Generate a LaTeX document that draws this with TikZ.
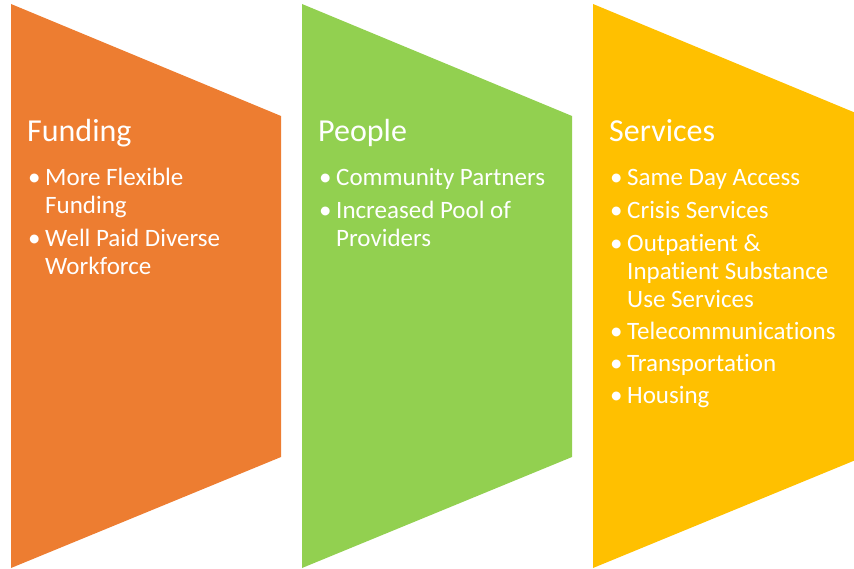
\documentclass[tikz,border=0pt]{standalone}
\usepackage{fontspec}
\setmainfont{Carlito}[Ligatures=NoCommon]
\definecolor{cOrange}{HTML}{ED7D31}
\definecolor{cGreen}{HTML}{92D050}
\definecolor{cYellow}{HTML}{FFC000}
\newcommand{\lines}[1]{\begin{tabular}[t]{@{}l@{}}#1\end{tabular}}
\begin{document}
\begin{tikzpicture}[x=1pt,y=-1pt,
  title/.style={anchor=base west,inner sep=0pt,text=white,font=\fontsize{32}{38}\selectfont},
  blt/.style={anchor=base west,inner sep=0pt,text=white,font=\fontsize{25}{28}\selectfont},
  item/.style={anchor=base west,inner sep=0pt,text=white,font=\fontsize{25}{28}\selectfont}]
\useasboundingbox (0,0) rectangle (854,569);
\begin{scope}
\clip (0,0) rectangle (854,569);
\fill[cOrange] (11,4) -- (281,116) -- (281,457) -- (11,568) -- cycle;
\fill[cGreen] (302,4) -- (572,116) -- (572,457) -- (302,568) -- cycle;
\fill[cYellow] (593,4) -- (863,116) -- (863,457) -- (593,568) -- cycle;
\end{scope}
% Funding
\node[title] (t1) at (27,142) {Funding};
\node[blt] (b11) at (28,186) {•};
\node[item] (i11) at (45,186) {\lines{More Flexible\\Funding}};
\node[blt] (b12) at (28,247) {•};
\node[item] (i12) at (45,247) {\lines{Well Paid Diverse\\Workforce}};
% People
\node[title] (t2) at (318,142) {People};
\node[blt] (b21) at (319,186) {•};
\node[item] (i21) at (336,186) {Community Partners};
\node[blt] (b22) at (319,219) {•};
\node[item] (i22) at (336,219) {\lines{Increased Pool of\\Providers}};
% Services
\node[title] (t3) at (609,142) {Services};
\node[blt] (b31) at (610,186) {•};
\node[item] (i31) at (627,186) {Same Day Access};
\node[blt] (b32) at (610,219) {•};
\node[item] (i32) at (627,219) {Crisis Services};
\node[blt] (b33) at (610,252) {•};
\node[item] (i33) at (627,252) {\lines{Outpatient \&\\Inpatient Substance\\Use Services}};
\node[blt] (b34) at (610,339) {•};
\node[item] (i34) at (627,339) {Telecommunications};
\node[blt] (b35) at (610,371) {•};
\node[item] (i35) at (627,371) {Transportation};
\node[blt] (b36) at (610,403) {•};
\node[item] (i36) at (627,403) {Housing};
\end{tikzpicture}
\end{document}
